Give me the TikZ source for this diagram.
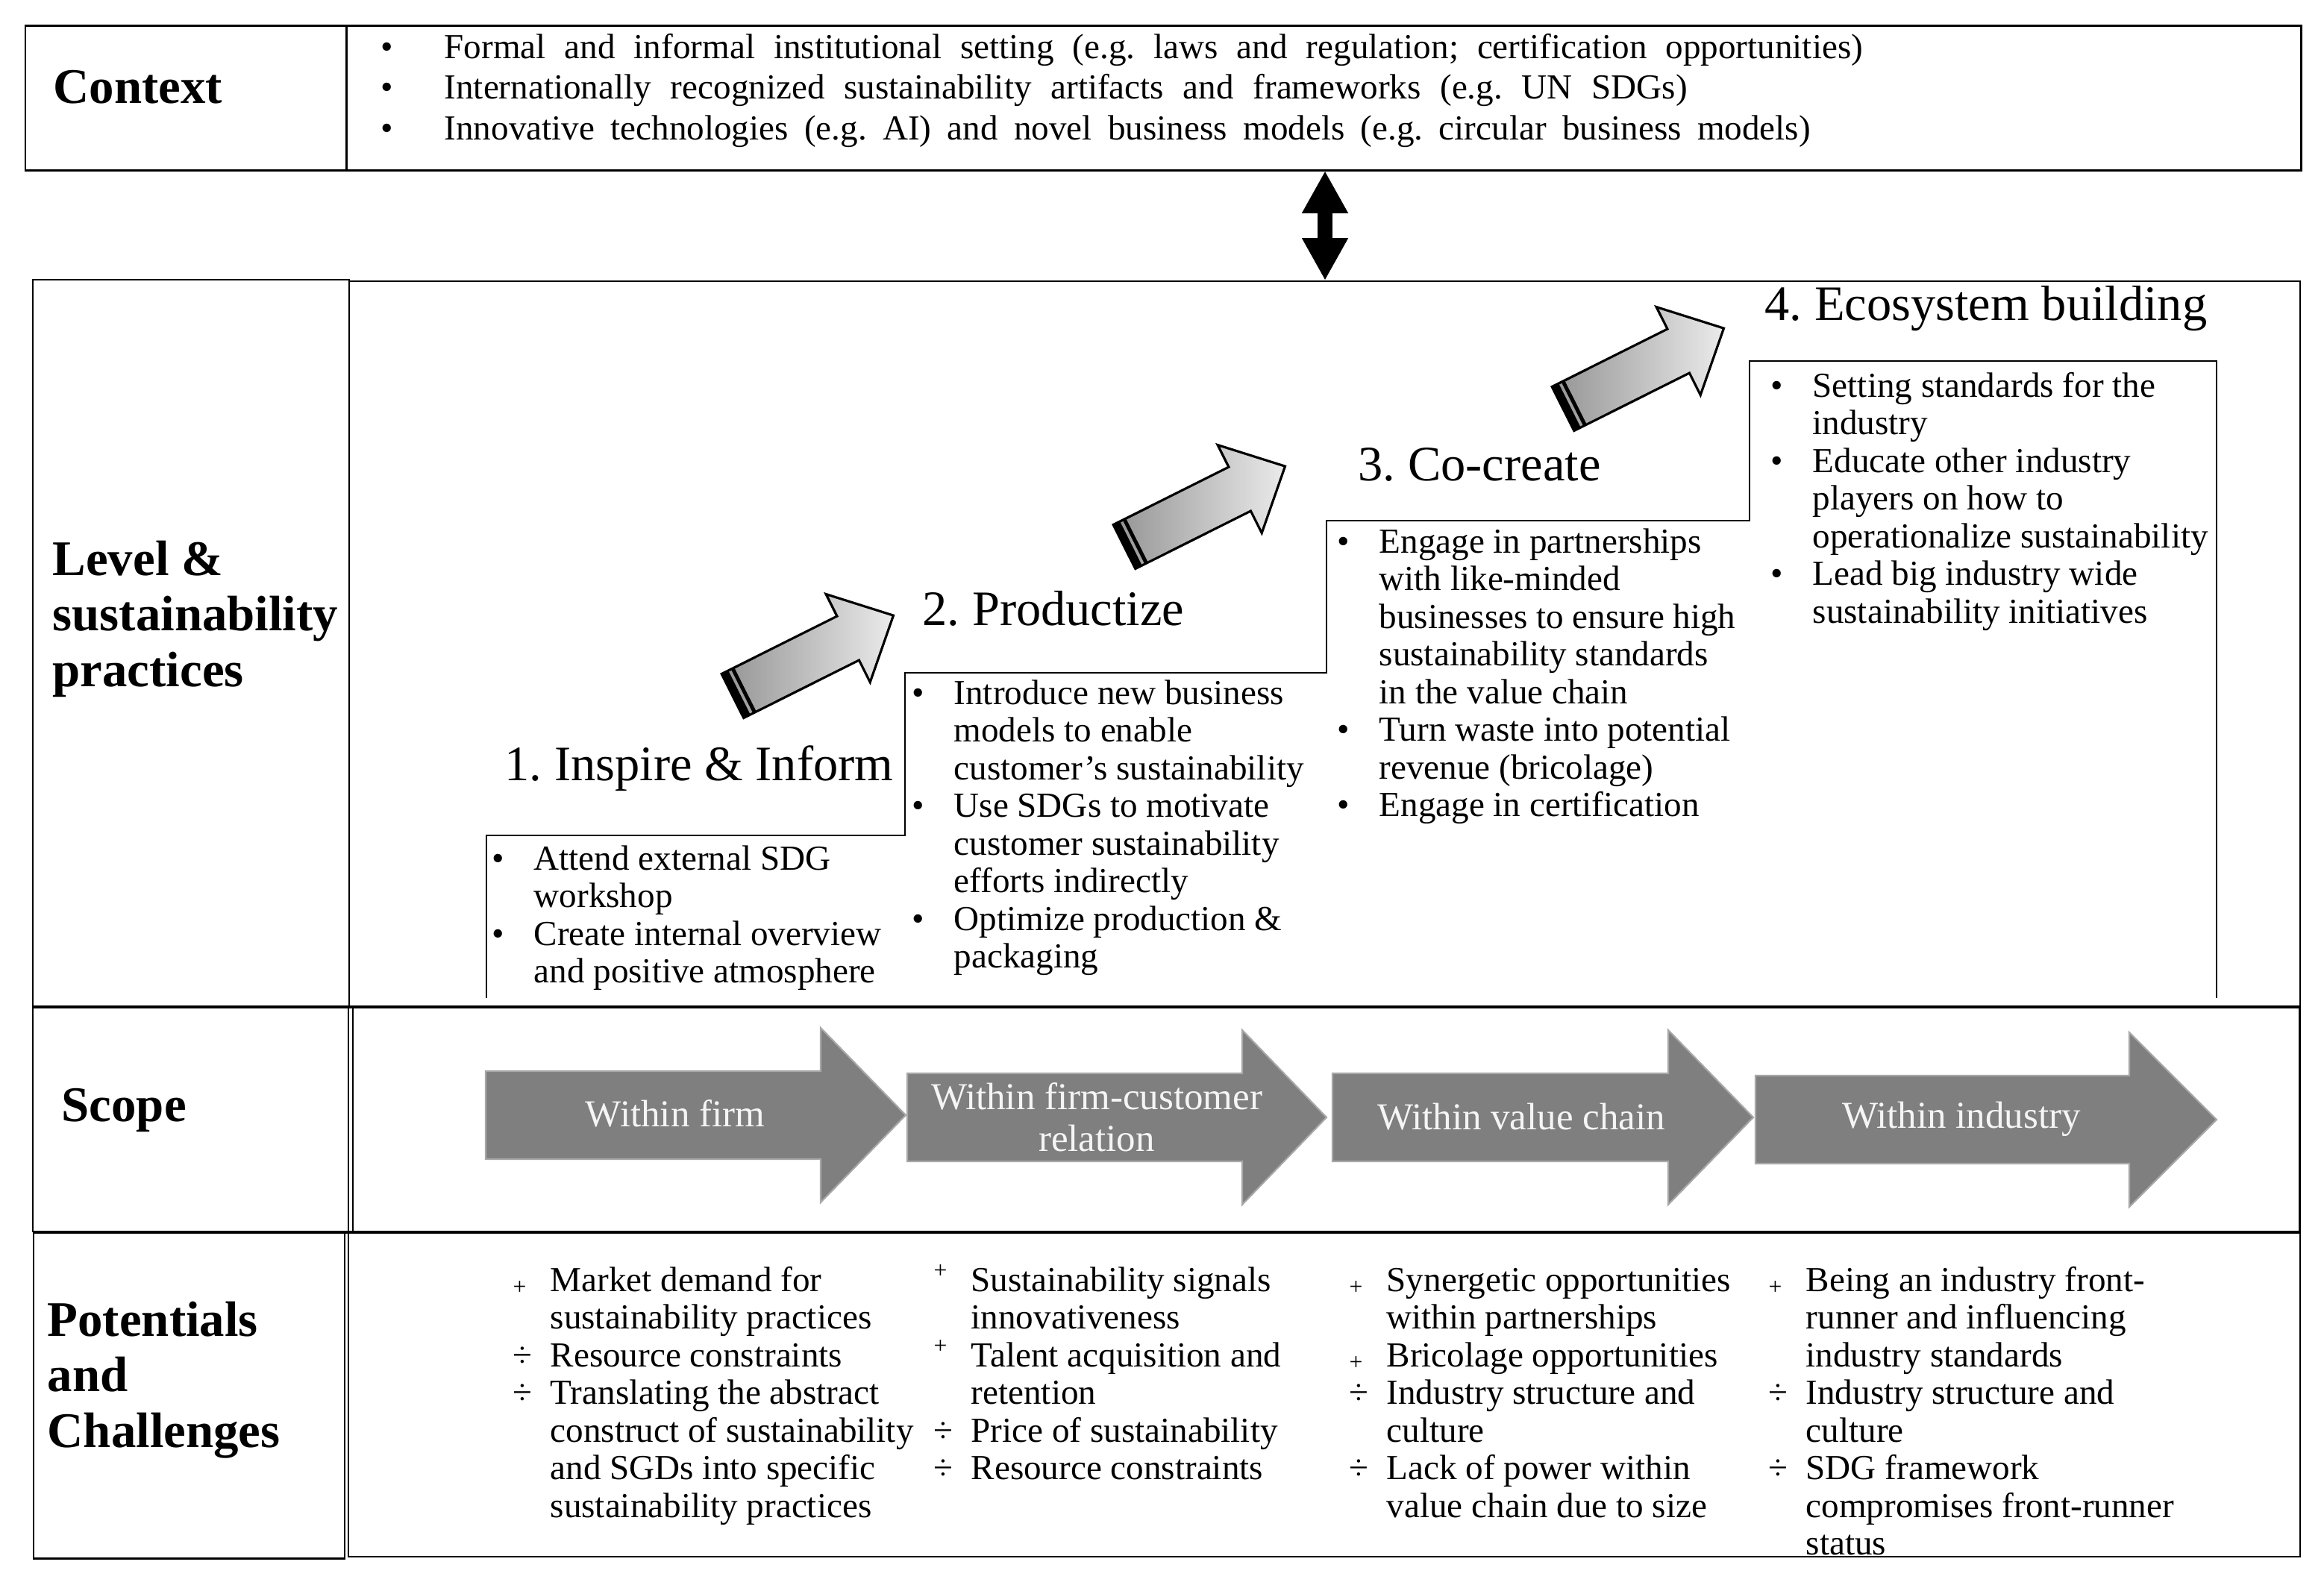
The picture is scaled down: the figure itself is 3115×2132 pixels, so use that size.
\documentclass[tikz,border=0pt]{standalone}
\usepackage{fontspec}
\setmainfont{Liberation Serif}
\usepackage{array}
\usetikzlibrary{arrows.meta}
\frenchspacing
\definecolor{scopegray}{HTML}{7F7F7F}
\definecolor{scopeedge}{HTML}{A8A8A8}
\newcommand{\fbody}{\fontsize{13.4}{14.37}\selectfont}
\newcommand{\pl}{\raisebox{-1.2pt}{\fontsize{9}{9}\selectfont +}}
\newcommand{\pu}{\raisebox{5pt}{\fontsize{9}{9}\selectfont +}}
\newcommand{\dv}{\textdiv}
\newcommand{\blist}[2]{\begin{tabular}[t]{@{}p{#1}@{}l@{}}#2\end{tabular}}
\newcommand{\stack}[1]{\begin{tabular}[t]{@{}l@{}}#1\end{tabular}}
\tikzset{
  bodytext/.style={font=\fbody, inner sep=0pt, anchor=base west},
  ctxtext/.style={font=\fontsize{13.4}{15.5}\selectfont, inner sep=0pt, anchor=base west},
  heading/.style={font=\fontsize{18.9}{22}\selectfont, inner sep=0pt, anchor=base west},
  rowlabel/.style={font={\bfseries\fontsize{19}{21.3}\selectfont}, inner sep=0pt, anchor=base west},
  scopearrow/.style={fill=scopegray, draw=scopeedge, line width=0.6pt},
  scopetext/.style={font=\fontsize{14.5}{16}\selectfont, text=white!96!black, inner sep=0pt, align=center},
  stair/.style={draw=black, line width=0.6pt},
  lvlfill/.style={left color=black!42, right color=black!8},
  lvledge/.style={draw=black, line width=0.9pt, line join=miter},
  thinline/.style={line width=0.57pt},
  midline/.style={line width=0.85pt},
  thickline/.style={line width=1.4pt}
}
\newcommand{\lvlarrow}[1]{%
  \begin{scope}[shift={#1}, rotate=26.6]
    \path[lvlfill] (0,-33) -- (173,-33) -- (173,-66) -- (241,0) -- (173,66) -- (173,33) -- (0,33) -- cycle;
    \fill[black] (0,-33) rectangle (10,33);
    \fill[black] (14,-33) rectangle (19,33);
    \draw[lvledge] (0,-33) -- (173,-33) -- (173,-66) -- (241,0) -- (173,66) -- (173,33) -- (0,33) -- cycle;
  \end{scope}}
\newcommand{\scopearrow}[4]{%
  \path[scopearrow] (#1,#4-59) -- (#2,#4-59) -- (#2,#4-117) -- (#3,#4) -- (#2,#4+117) -- (#2,#4+59) -- (#1,#4+59) -- cycle;}
\begin{document}
\begin{tikzpicture}[x=0.01cm, y=-0.01cm]
\useasboundingbox (0,0) rectangle (3115,2132);
\fill[white] (0,0) rectangle (3115,2132);

% ---------- frames ----------
\draw[midline] (34,34) rectangle (3084,228);
\draw[midline] (464,34) -- (464,228);
\draw[thinline] (44,375) rectangle (468,1350);
\draw[thinline] (468,377) -- (3083,377) -- (3083,1350);
\draw[thickline] (44,1350) -- (3083,1350);
\draw[thickline] (44,1652) -- (3083,1652);
\draw[midline] (44,1350) -- (44,1652);
\draw[midline] (3082,1350) -- (3082,1652);
\draw[thinline] (467,1350) -- (467,1652);
\draw[thinline] (473,1350) -- (473,1652);
\draw[midline] (45,1652) -- (45,2089) -- (463,2089);
\draw[thinline] (462,1652) -- (462,2089);
\draw[thinline] (467,1652) -- (467,2087) -- (3083,2087) -- (3083,1652);

% ---------- row labels ----------
\node[rowlabel] (lctx) at (71,138) {Context};
\node[rowlabel] (llvl) at (70,771) {\stack{Level \&\\sustainability\\practices}};
\node[rowlabel] (lscope) at (82,1503) {Scope};
\node[rowlabel] (lpot) at (63,1791) {\stack{Potentials\\and\\Challenges}};

% ---------- context ----------
\node[ctxtext] (ctxlist) at (510,78) {\blist{0.85cm}{%
\textbullet & \makebox[19cm][s]{Formal and informal institutional setting (e.g. laws and regulation; certification opportunities)}\\
\textbullet & \makebox[16.65cm][s]{Internationally recognized sustainability artifacts and frameworks (e.g. UN SDGs)}\\
\textbullet & \makebox[18.3cm][s]{Innovative technologies (e.g. AI) and novel business models (e.g. circular business models)}}};

% ---------- double arrow ----------
\coordinate (ctxbot) at (1776,229);
\coordinate (lvltop) at (1776,376);
\draw[line width=5.7pt, {Triangle[width=16.5pt,length=16.2pt]}-{Triangle[width=16.5pt,length=16.2pt]}] (ctxbot) -- (lvltop);

% ---------- staircase ----------
\draw[stair] (652,1338) -- (652,1120) -- (1213,1120) -- (1213,902) -- (1778,902) -- (1778,698) -- (2345,698) -- (2345,484) -- (2971,484) -- (2971,1338);

% ---------- level arrows ----------
\lvlarrow{(982,933)}
\lvlarrow{(1507,733)}
\lvlarrow{(2095,548)}

% ---------- headings ----------
\node[heading] (h1) at (676,1046) {1. Inspire \& Inform};
\node[heading] (h2) at (1236,838) {2. Productize};
\node[heading] (h3) at (1820,644) {3. Co-create};
\node[heading] (h4) at (2365,429) {4. Ecosystem building};

% ---------- level lists ----------
\node[bodytext] (s1) at (659,1166) {\blist{0.56cm}{%
\textbullet & Attend external SDG\\
 & workshop\\
\textbullet & Create internal overview\\
 & and positive atmosphere}};
\node[bodytext] (s2) at (1222,944) {\blist{0.56cm}{%
\textbullet & Introduce new business\\
 & models to enable\\
 & customer’s sustainability\\
\textbullet & Use SDGs to motivate\\
 & customer sustainability\\
 & efforts indirectly\\
\textbullet & Optimize production \&\\
 & packaging}};
\node[bodytext] (s3) at (1792,741) {\blist{0.56cm}{%
\textbullet & Engage in partnerships\\
 & with like-minded\\
 & businesses to ensure high\\
 & sustainability standards\\
 & in the value chain\\
\textbullet & Turn waste into potential\\
 & revenue (bricolage)\\
\textbullet & Engage in certification}};
\node[bodytext] (s4) at (2373,532) {\blist{0.56cm}{%
\textbullet & Setting standards for the\\
 & industry\\
\textbullet & Educate other industry\\
 & players on how to\\
 & operationalize sustainability\\
\textbullet & Lead big industry wide\\
 & sustainability initiatives}};

% ---------- scope arrows ----------
\scopearrow{651}{1100}{1214}{1495}
\scopearrow{1216}{1665}{1778}{1498}
\scopearrow{1786}{2236}{2350}{1498}
\scopearrow{2353}{2854}{2971}{1501}
\node[scopetext] (sc1) at (905,1493) {Within firm};
\node[scopetext] (sc2) at (1470,1498) {Within firm-customer\\relation};
\node[scopetext] (sc3) at (2039,1497) {Within value chain};
\node[scopetext] (sc4) at (2629,1500) {Within industry};

% ---------- potentials ----------
\node[bodytext] (p1) at (687,1731) {\blist{0.5cm}{%
\pl & Market demand for\\
 & sustainability practices\\
\dv & Resource constraints\\
\dv & Translating the abstract\\
 & construct of sustainability\\
 & and SGDs into specific\\
 & sustainability practices}};
\node[bodytext] (p2) at (1251,1731) {\blist{0.5cm}{%
\pu & Sustainability signals\\
 & innovativeness\\
\pu & Talent acquisition and\\
 & retention\\
\dv & Price of sustainability\\
\dv & Resource constraints}};
\node[bodytext] (p3) at (1808,1731) {\blist{0.5cm}{%
\pl & Synergetic opportunities\\
 & within partnerships\\
\pl & Bricolage opportunities\\
\dv & Industry structure and\\
 & culture\\
\dv & Lack of power within\\
 & value chain due to size}};
\node[bodytext] (p4) at (2370,1731) {\blist{0.5cm}{%
\pl & Being an industry front-\\
 & runner and influencing\\
 & industry standards\\
\dv & Industry structure and\\
 & culture\\
\dv & SDG framework\\
 & compromises front-runner\\
 & status}};
\end{tikzpicture}
\end{document}
